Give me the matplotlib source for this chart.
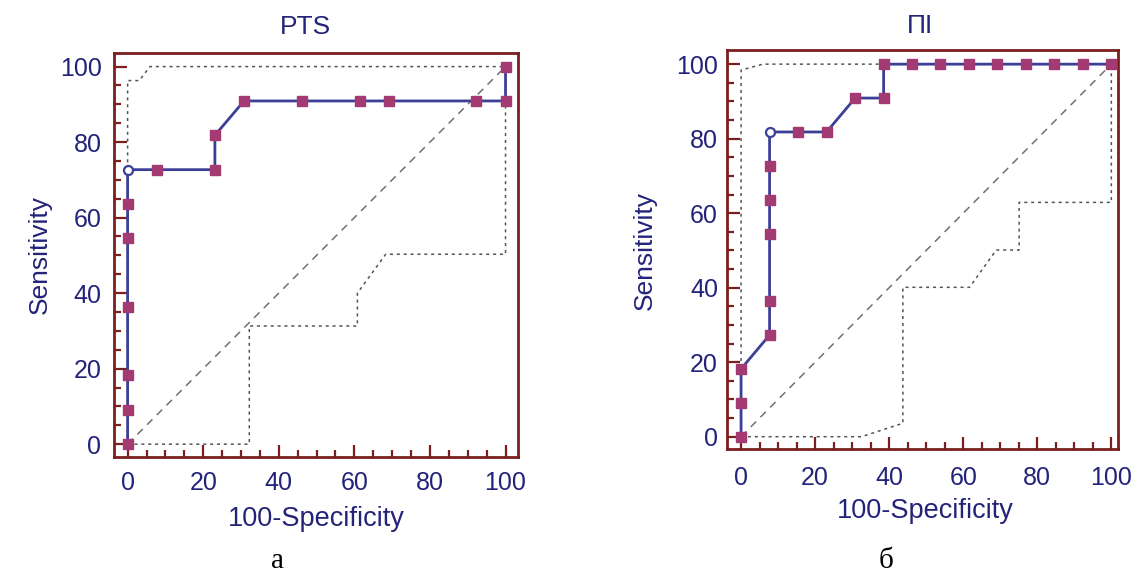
import matplotlib
matplotlib.use("Agg")
import matplotlib.pyplot as plt
from matplotlib.ticker import MultipleLocator

# ---------------- data ----------------
titles = ["PTS", "ПI"]
captions = ["а", "б"]

pts_x = [0, 0, 0, 0, 0, 0, 0, 7.7, 23.1, 23.1, 30.8, 46.2, 61.5, 69.2, 92.3, 100, 100]
pts_y = [0, 9.1, 18.2, 36.4, 54.5, 63.6, 72.7, 72.7, 72.7, 81.8, 90.9, 90.9, 90.9, 90.9, 90.9, 90.9, 100]
pts_open = 6
pts_upper_x = [0, 0, 3.1, 5.9, 100]
pts_upper_y = [0, 96.3, 96.3, 100, 100]
pts_lower_x = [0, 32.2, 32.2, 60.8, 60.8, 68.3, 100, 100]
pts_lower_y = [0, 0, 31.3, 31.3, 40.0, 50.3, 50.3, 90.9]

pi_x = [0, 0, 0, 7.7, 7.7, 7.7, 7.7, 7.7, 7.7, 15.4, 23.1, 30.8, 38.5, 38.5,
        46.2, 53.8, 61.5, 69.2, 76.9, 84.6, 92.3, 100]
pi_y = [0, 9.1, 18.2, 27.3, 36.4, 54.5, 63.6, 72.7, 81.8, 81.8, 81.8, 90.9, 90.9, 100,
        100, 100, 100, 100, 100, 100, 100, 100]
pi_open = 8
pi_upper_x = [0, 0, 5.9, 100]
pi_upper_y = [0, 98.4, 100, 100]
pi_lower_x = [0, 32.5, 43.7, 43.7, 61.7, 68.9, 75.1, 75.1, 100, 100]
pi_lower_y = [0, 0, 3.6, 40.1, 40.1, 50.1, 50.1, 62.9, 62.9, 100]

diag = [0, 100]
ticks = [0, 20, 40, 60, 80, 100]

# ---------------- style ----------------
NAVY = "#23237a"
LINE = "#3b3f96"
MARK = "#a33a72"
SPINE = "#7a1e1e"
GRAY = "#555555"
SANS = ["Liberation Sans", "DejaVu Sans"]
SERIF = ["Liberation Serif", "DejaVu Serif"]

fig = plt.figure(figsize=(11.44, 5.76), dpi=100)
W, H = 1144, 576

panels = [
    dict(box=(114, 53, 518, 457), xlim=(-3.6, 103.3), ylim=(-3.4, 103.6),
         x=pts_x, y=pts_y, op=pts_open, ux=pts_upper_x, uy=pts_upper_y,
         lx=pts_lower_x, ly=pts_lower_y, title_pad=14, title_x=305,
         ylab=(52, 255), xlab=(316, 506), xpad=10, ypad=9, cap=(278, 568)),
    dict(box=(727, 50, 1118, 449), xlim=(-3.8, 101.8), ylim=(-3.3, 103.8),
         x=pi_x, y=pi_y, op=pi_open, ux=pi_upper_x, uy=pi_upper_y,
         lx=pi_lower_x, ly=pi_lower_y, title_pad=12, title_x=920,
         ylab=(657, 250), xlab=(925, 498), xpad=12, ypad=6.5, cap=(886, 568)),
]

for i, p in enumerate(panels):
    x0, y0, x1, y1 = p["box"]
    ax = fig.add_axes([x0 / W, 1 - y1 / H, (x1 - x0) / W, (y1 - y0) / H])
    ax.set_xlim(*p["xlim"])
    ax.set_ylim(*p["ylim"])

    ax.plot(diag, diag, color="#707070", lw=1.1, ls=(0, (5, 4)), zorder=1)
    ax.plot(p["ux"], p["uy"], color=GRAY, lw=1.1, ls=(0, (2, 2.5)), zorder=1)
    ax.plot(p["lx"], p["ly"], color=GRAY, lw=1.1, ls=(0, (2, 2.5)), zorder=1)

    ax.plot(p["x"], p["y"], color=LINE, lw=2.0, zorder=2)
    sx = [v for k, v in enumerate(p["x"]) if k != p["op"]]
    sy = [v for k, v in enumerate(p["y"]) if k != p["op"]]
    ax.plot(sx, sy, ls="none", marker="s", ms=7, mfc=MARK, mec=MARK, zorder=3)
    ax.plot([p["x"][p["op"]]], [p["y"][p["op"]]], ls="none", marker="o", ms=6.5,
            mfc="white", mec=LINE, mew=1.6, zorder=4)

    for s in ax.spines.values():
        s.set_color(SPINE)
        s.set_linewidth(2.0)

    ax.set_xticks(ticks)
    ax.set_yticks(ticks)
    ax.xaxis.set_minor_locator(MultipleLocator(5))
    ax.yaxis.set_minor_locator(MultipleLocator(5))
    ax.tick_params(which="both", direction="in", color=SPINE, width=1.6,
                   top=False, right=False)
    ax.tick_params(which="major", length=9)
    ax.tick_params(which="minor", length=5)
    ax.tick_params(axis="x", which="major", pad=p["xpad"])
    ax.tick_params(axis="y", which="major", pad=p["ypad"])
    for lab in ax.get_xticklabels() + ax.get_yticklabels():
        lab.set_family(SANS)
        lab.set_fontsize(18)
        lab.set_color(NAVY)

    t = ax.set_title(titles[i], fontsize=19, color=NAVY, family=SANS, pad=p["title_pad"])
    t.set_x((p["title_x"] - x0) / (x1 - x0))

    ax.set_xlabel("100-Specificity", fontsize=19.5, color=NAVY, family=SANS)
    xl, xt = p["xlab"]
    ax.xaxis.set_label_coords((xl - x0) / (x1 - x0), (y1 - xt) / (y1 - y0))
    ax.set_ylabel("Sensitivity", fontsize=19, color=NAVY, family=SANS)
    yr, yc = p["ylab"]
    ax.yaxis.set_label_coords((yr - x0) / (x1 - x0), (y1 - yc) / (y1 - y0))

    cx, cy = p["cap"]
    fig.text(cx / W, 1 - cy / H, captions[i], fontsize=21, family=SERIF,
             color="black", ha="center", va="baseline")

fig.savefig("out.png", dpi=100)
